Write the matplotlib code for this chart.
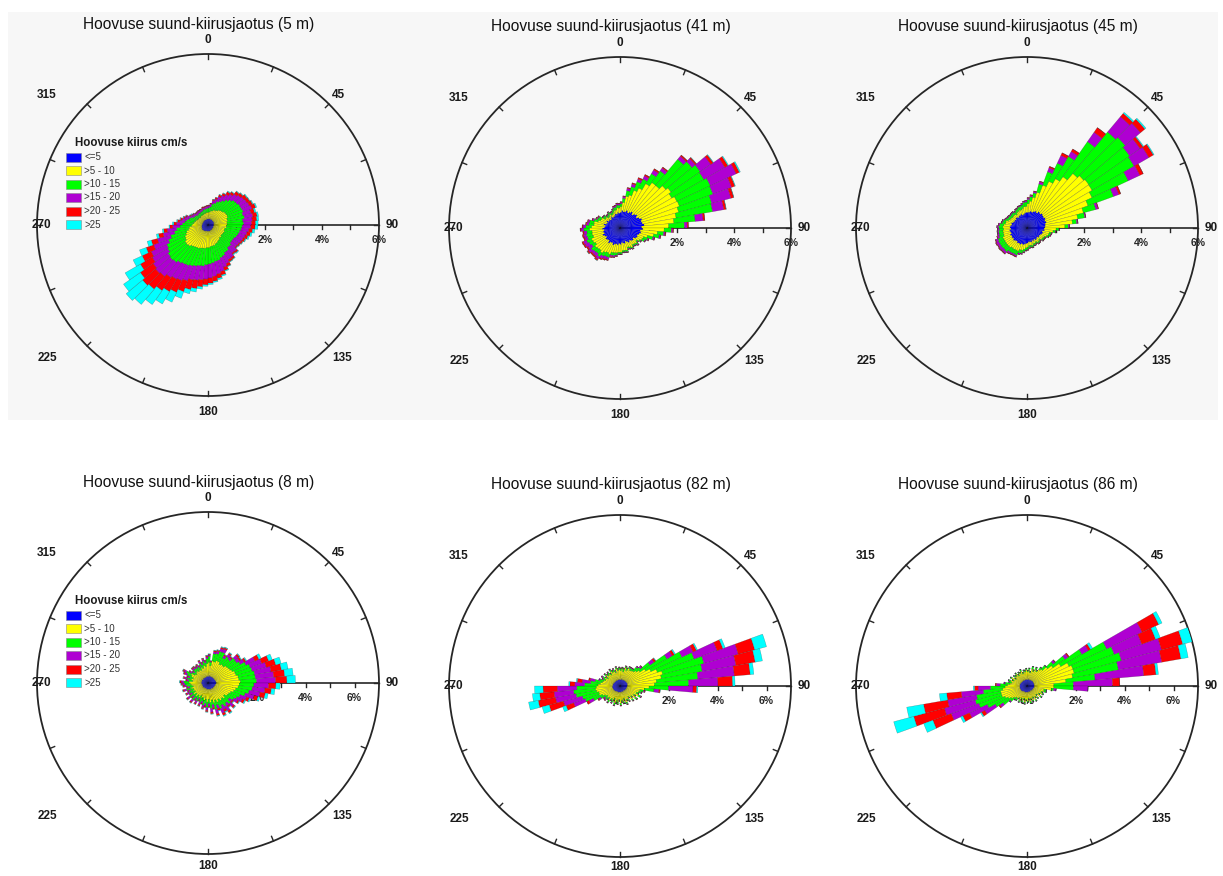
import numpy as np
import matplotlib
matplotlib.use("Agg")
import matplotlib.pyplot as plt
from matplotlib.patches import Rectangle, Circle

plt.rcParams["font.family"] = ["Liberation Sans", "DejaVu Sans"]

# ---------------------------------------------------------------- data
SPEED_CLASSES = ["<=5", ">5 - 10", ">10 - 15", ">15 - 20", ">20 - 25", ">25"]
CLASS_COLORS = ["#0000FF", "#FFFF00", "#00FF00", "#AF00D2", "#FF0000", "#00FFFF"]
DIRECTIONS = np.arange(2.5, 360.0, 5.0)   # sector centres (deg, clockwise from N)
LEGEND_TITLE = "Hoovuse kiirus cm/s"
TITLE_FMT = "Hoovuse suund-kiirusjaotus ({} m)"
ANGLE_LABELS = ["0", "45", "90", "135", "180", "225", "270", "315"]

# frequency (%) per direction sector and speed class -- 5 m
d5_le5 = [.22,.21,.23,.22,.24,.21,.22,.23,.22,.21,.23,.22,
          .22,.24,.21,.22,.20,.21,.20,.22,.19,.20,.21,.20,
          .20,.19,.21,.20,.22,.20,.22,.21,.23,.22,.21,.23,
          .22,.23,.21,.22,.24,.23,.25,.24,.26,.25,.27,.24,
          .25,.23,.24,.22,.23,.21,.22,.20,.21,.20,.21,.19,
          .20,.21,.19,.20,.21,.20,.20,.19,.21,.20,.22,.21]
d5_5_10 = [.23,.25,.28,.30,.33,.36,.38,.42,.45,.48,.50,.52,
           .53,.50,.49,.48,.47,.46,.45,.43,.41,.40,.41,.40,
           .40,.39,.41,.40,.43,.46,.48,.50,.52,.53,.55,.57,
           .58,.60,.62,.63,.64,.65,.65,.68,.72,.75,.72,.68,
           .65,.60,.54,.48,.43,.37,.33,.30,.28,.25,.23,.21,
           .20,.19,.18,.18,.19,.19,.20,.21,.21,.22,.22,.23]
d5_10_15 = [.15,.18,.24,.28,.31,.36,.40,.44,.50,.55,.53,.56,
            .55,.58,.57,.60,.56,.58,.55,.52,.53,.50,.45,.42,
            .40,.42,.44,.45,.48,.47,.50,.52,.54,.55,.58,.57,
            .60,.62,.63,.65,.66,.70,.70,.72,.74,.75,.73,.72,
            .70,.65,.58,.50,.45,.40,.35,.32,.28,.25,.22,.18,
            .15,.14,.13,.12,.12,.11,.12,.12,.13,.13,.14,.14]
d5_15_20 = [.08,.10,.12,.15,.18,.22,.25,.24,.26,.25,.28,.27,
            .30,.32,.29,.30,.33,.28,.30,.27,.26,.25,.24,.26,
            .25,.23,.26,.25,.27,.28,.30,.35,.40,.45,.47,.49,
            .50,.48,.51,.50,.55,.58,.60,.62,.64,.65,.63,.62,
            .60,.55,.48,.40,.33,.26,.20,.18,.16,.15,.13,.11,
            .10,.09,.09,.08,.08,.09,.08,.07,.08,.07,.07,.08]
d5_20_25 = [.02,.03,.04,.05,.07,.08,.10,.09,.11,.10,.12,.11,
            .12,.14,.13,.15,.16,.14,.15,.13,.12,.10,.08,.06,
            .05,.04,.06,.05,.07,.08,.10,.12,.13,.15,.17,.18,
            .20,.25,.30,.35,.40,.45,.50,.55,.58,.60,.55,.48,
            .35,.28,.22,.16,.12,.10,.10,.08,.06,.05,.04,.03,
            .03,.02,.02,.02,.02,.02,.02,.02,.03,.03,.02,.03]
d5_gt25 = [0,0,.01,.01,.02,.02,.03,.02,.02,.02,.03,.02,
           .03,.04,.05,.05,.07,.09,.10,.08,.06,.05,.03,.02,
           .02,.02,.03,.03,.02,.02,.02,.03,.04,.05,.04,.05,
           .05,.08,.12,.15,.25,.38,.50,.60,.70,.75,.72,.62,
           .35,.25,.15,.08,.05,.03,.05,.03,.02,.02,.02,.01,
           .02,.01,0,0,0,0,0,0,0,0,0,0]

# 41 m
d41_le5 = [.55,.62,.58,.60,.66,.60,.65,.70,.63,.70,.74,.68,
           .75,.82,.78,.80,.85,.76,.80,.72,.75,.70,.66,.68,
           .65,.58,.62,.60,.55,.60,.55,.50,.56,.55,.52,.58,
           .55,.60,.57,.60,.64,.58,.60,.66,.58,.60,.62,.56,
           .60,.65,.58,.60,.56,.62,.55,.52,.58,.50,.48,.52,
           .45,.48,.42,.45,.50,.44,.45,.48,.52,.50,.55,.52]
d41_5_10 = [.20,.28,.55,.60,.75,.95,1.15,1.25,1.32,1.40,1.45,1.42,
            1.45,1.40,1.35,1.20,1.05,.95,.75,.60,.45,.30,.22,.18,
            .15,.14,.16,.15,.18,.20,.20,.22,.25,.25,.28,.27,
            .30,.28,.32,.30,.35,.38,.40,.42,.45,.45,.46,.44,
            .45,.42,.40,.40,.43,.45,.45,.40,.35,.30,.25,.20,
            .15,.13,.12,.10,.10,.10,.10,.11,.12,.15,.16,.18]
d41_10_15 = [.10,.15,.20,.30,.32,.35,.40,.50,1.20,1.20,1.25,1.30,
             1.30,1.25,1.20,1.30,.75,.55,.25,.22,.20,.20,.15,.10,
             .05,.05,.06,.05,.05,.04,.05,.05,.06,.05,.05,.06,
             .05,.08,.10,.10,.12,.15,.15,.16,.15,.15,.16,.15,
             .15,.18,.20,.20,.18,.20,.20,.18,.15,.15,.12,.10,
             .10,.08,.07,.07,.08,.07,.07,.09,.10,.10,.10,.10]
d41_15_20 = [.05,.06,.08,.10,.10,.12,.15,.12,.14,.15,.45,.85,
             1.00,.70,.70,.40,.28,.10,.05,.05,.04,.05,.04,.03,
             .02,.02,.03,.02,.02,.02,.02,.03,.02,.03,.02,.02,
             .02,.03,.05,.05,.08,.10,.10,.10,.12,.10,.12,.15,
             .15,.12,.10,.10,.10,.10,.10,.08,.06,.05,.04,.03,
             .02,.02,.03,.03,.02,.03,.03,.03,.04,.05,.05,.05]
d41_20_25 = [.02,.02,.03,.04,.05,.05,.05,.04,.05,.05,.10,.12,
             .12,.12,.10,.08,.06,.04,.03,.03,.02,.02,.02,.01,
             .01,.01,.01,.01,.01,.01,.01,.01,.01,.01,.01,.01,
             .01,.02,.02,.03,.03,.04,.04,.05,.05,.05,.05,.05,
             .05,.05,.04,.04,.04,.03,.03,.03,.02,.02,.02,.02,
             .01,.01,.01,.01,.01,.01,.01,.01,.02,.02,.02,.02]
d41_gt25 = [0,0,0,0,0,0,0,0,0,.01,.02,.03,
            .04,.02,.01,.01,0,0,0,0,0,0,0,0,
            0,0,0,0,0,0,0,0,0,0,0,0,
            0,0,0,0,0,0,0,.01,0,0,.01,0,
            0,0,0,0,0,0,0,0,0,0,0,0,
            0,0,0,0,0,0,0,0,0,0,0,0]

# 45 m
d45_le5 = [.55,.56,.60,.58,.62,.66,.63,.70,.68,.72,.70,.69,
           .72,.68,.70,.66,.65,.63,.60,.62,.55,.58,.56,.52,
           .50,.53,.48,.50,.52,.47,.50,.48,.52,.50,.49,.53,
           .55,.57,.60,.58,.62,.60,.62,.58,.60,.64,.60,.62,
           .60,.63,.58,.60,.62,.57,.60,.58,.55,.57,.52,.50,
           .50,.48,.52,.50,.47,.50,.50,.52,.48,.50,.53,.55]
d45_5_10 = [.30,.39,.50,.72,.98,1.15,1.37,1.50,1.82,1.88,1.95,1.95,
            1.80,1.60,1.35,1.15,.95,.70,.42,.30,.25,.20,.18,.15,
            .15,.12,.10,.11,.10,.10,.10,.11,.12,.12,.13,.14,
            .15,.18,.20,.22,.25,.26,.25,.28,.30,.26,.30,.28,
            .30,.28,.27,.25,.23,.25,.25,.24,.22,.20,.18,.16,
            .15,.14,.12,.13,.12,.14,.15,.16,.18,.20,.22,.21]
d45_10_15 = [.15,.15,.15,.30,.50,.70,.90,1.50,1.90,1.90,1.75,1.70,
             1.40,.95,.45,.25,.15,.12,.10,.08,.07,.07,.06,.05,
             .05,.05,.05,.05,.05,.05,.05,.06,.06,.06,.07,.08,
             .08,.09,.10,.12,.15,.15,.15,.17,.20,.18,.20,.20,
             .20,.18,.17,.15,.15,.16,.15,.14,.12,.10,.10,.10,
             .10,.10,.09,.10,.10,.10,.10,.11,.13,.13,.15,.15]
d45_15_20 = [.05,.05,.05,.08,.15,.30,.20,.40,.70,.70,.45,.60,
             .45,.20,.08,.03,.04,.04,.02,.02,.02,.02,.02,.02,
             .02,.02,.02,.02,.02,.02,.02,.02,.02,.02,.02,.02,
             .02,.03,.03,.04,.05,.05,.05,.06,.08,.10,.10,.08,
             .10,.08,.06,.05,.05,.05,.05,.04,.03,.03,.03,.03,
             .03,.03,.03,.03,.03,.03,.03,.03,.03,.04,.04,.05]
d45_20_25 = [.02,.02,.02,.02,.05,.10,.10,.20,.15,.20,.12,.18,
             .13,.07,.02,.01,.01,.01,.01,.01,.01,.01,.01,.01,
             .01,.01,.01,.01,.01,.01,.01,.01,.01,.01,.01,.01,
             .01,.01,.01,.01,.02,.02,.02,.02,.02,.02,.02,.02,
             .02,.02,.02,.01,.01,.01,.01,.01,.01,.01,.01,.01,
             .01,.01,.01,.01,.01,.01,.01,.01,.01,.01,.01,.01]
d45_gt25 = [0,0,0,0,0,0,0,0,.05,.05,.03,.03,
            0,0,0,0,0,0,0,0,0,0,0,0,
            0,0,0,0,0,0,0,0,0,0,0,0,
            0,0,0,0,0,0,0,0,0,0,0,0,
            0,0,0,0,0,0,0,0,0,0,0,0,
            0,0,0,0,0,0,0,0,0,0,0,0]

# 8 m
d8_le5 = [.30,.26,.32,.28,.30,.27,.31,.29,.30,.28,.32,.30,
          .30,.33,.31,.34,.32,.35,.33,.34,.31,.32,.30,.29,
          .30,.27,.31,.28,.30,.26,.29,.27,.30,.26,.28,.25,
          .28,.25,.27,.24,.26,.23,.26,.24,.27,.25,.28,.24,
          .26,.25,.27,.24,.26,.28,.30,.26,.28,.25,.27,.29,
          .25,.24,.26,.27,.25,.26,.24,.27,.25,.28,.26,.29]
d8_5_10 = [.55,.45,.60,.62,.68,.70,.58,.65,.62,.72,.70,.75,
           .80,.85,.88,.92,.95,.98,.95,.90,.85,.78,.70,.66,
           .62,.55,.60,.55,.58,.52,.58,.48,.55,.45,.52,.42,
           .50,.42,.46,.38,.42,.35,.42,.38,.45,.38,.45,.38,
           .42,.38,.45,.38,.42,.45,.48,.38,.42,.38,.45,.48,
           .38,.34,.38,.38,.35,.38,.34,.42,.38,.45,.42,.50]
d8_10_15 = [.25,.15,.30,.35,.40,.42,.30,.38,.35,.45,.42,.48,
            .62,.66,.68,.68,.68,.66,.60,.58,.55,.48,.40,.36,
            .30,.25,.30,.26,.30,.28,.30,.22,.28,.20,.25,.18,
            .22,.18,.20,.16,.18,.14,.18,.15,.20,.15,.20,.15,
            .18,.15,.20,.15,.20,.22,.22,.15,.18,.15,.20,.22,
            .15,.12,.15,.14,.15,.14,.13,.18,.15,.18,.15,.20]
d8_15_20 = [.05,.03,.08,.10,.12,.15,.10,.12,.10,.15,.14,.18,
            .40,.50,.60,.68,.75,.78,.60,.52,.45,.38,.28,.24,
            .18,.14,.17,.14,.22,.20,.20,.15,.18,.12,.15,.10,
            .12,.10,.10,.08,.10,.07,.10,.08,.10,.08,.10,.08,
            .10,.08,.10,.08,.10,.10,.10,.08,.10,.08,.10,.10,
            .08,.06,.07,.07,.06,.07,.06,.08,.07,.08,.07,.08]
d8_20_25 = [.03,.02,.05,.05,.06,.06,.05,.06,.05,.08,.07,.08,
            .18,.30,.40,.43,.45,.46,.30,.26,.22,.16,.12,.10,
            .07,.06,.07,.06,.10,.10,.10,.08,.08,.06,.07,.05,
            .06,.05,.05,.04,.05,.04,.05,.04,.05,.04,.05,.04,
            .05,.04,.05,.04,.05,.05,.05,.04,.05,.04,.05,.05,
            .04,.03,.04,.04,.03,.04,.03,.04,.04,.04,.04,.05]
d8_gt25 = [.02,.01,.02,.02,.03,.03,.02,.03,.02,.03,.03,.04,
           .10,.16,.23,.28,.35,.35,.17,.15,.12,.08,.05,.05,
           .03,.03,.03,.03,.04,.04,.04,.03,.03,.02,.02,.02,
           .02,.02,.02,.01,.02,.01,.02,.01,.02,.01,.02,.01,
           .02,.01,.02,.01,.02,.02,.02,.01,.02,.01,.02,.02,
           .01,.01,.01,.01,.01,.01,.01,.01,.01,.01,.01,.02]

# 82 m
d82_le5 = [.28,.25,.30,.27,.29,.26,.30,.28,.31,.29,.30,.32,
           .30,.33,.31,.32,.30,.31,.29,.30,.28,.30,.27,.29,
           .26,.28,.25,.27,.24,.26,.25,.27,.24,.26,.25,.27,
           .25,.27,.26,.28,.25,.27,.26,.29,.28,.30,.29,.31,
           .30,.32,.30,.33,.31,.32,.30,.31,.29,.30,.28,.29,
           .27,.26,.28,.25,.27,.26,.28,.25,.27,.26,.28,.27]
d82_5_10 = [.35,.45,.30,.50,.40,.55,.45,.50,.50,.60,.70,.90,
            1.10,1.30,1.50,1.40,1.20,1.10,.90,.70,.55,.50,.45,.55,
            .40,.50,.35,.45,.30,.40,.35,.45,.30,.40,.35,.45,
            .30,.40,.35,.45,.30,.40,.35,.45,.35,.40,.35,.40,
            .50,.60,.60,.65,.70,.65,.60,.50,.45,.40,.35,.40,
            .30,.45,.35,.40,.30,.45,.35,.40,.30,.45,.35,.40]
d82_10_15 = [.08,.05,.10,.06,.08,.05,.10,.08,.20,.20,.50,1.00,
             1.40,1.60,1.75,1.70,1.70,1.40,.80,.40,.15,.10,.08,.10,
             .06,.08,.05,.07,.05,.06,.05,.07,.05,.06,.05,.07,
             .05,.07,.06,.08,.06,.08,.07,.08,.08,.10,.12,.20,
             .40,.60,.70,.85,.90,.80,.55,.40,.30,.15,.10,.10,
             .08,.07,.06,.08,.06,.07,.06,.08,.06,.07,.06,.08]
d82_15_20 = [.02,.02,.03,.02,.02,.02,.03,.02,.05,.08,.20,.25,
             .50,1.00,1.45,1.40,1.50,1.20,1.00,.20,.05,.03,.02,.03,
             .02,.02,.02,.02,.02,.02,.02,.02,.02,.02,.02,.02,
             .02,.02,.02,.03,.02,.03,.02,.03,.03,.04,.05,.10,
             .20,.50,.80,.85,.80,.80,.40,.35,.20,.05,.05,.05,
             .03,.02,.02,.03,.02,.02,.02,.03,.02,.02,.02,.02]
d82_20_25 = [.01,.01,.01,.01,.01,.01,.01,.01,.01,.02,.08,.10,
             .15,.25,.70,.80,.65,.60,.15,.05,.02,.01,.01,.01,
             .01,.01,.01,.01,.01,.01,.01,.01,.01,.01,.01,.01,
             .01,.01,.01,.01,.01,.01,.01,.01,.01,.02,.03,.04,
             .10,.33,.60,.72,.59,.58,.20,.20,.06,0,.01,.01,
             .01,.01,.01,.01,.01,.01,.01,.01,.01,.01,.01,.01]
d82_gt25 = [0,0,0,0,0,0,0,0,0,0,.02,.05,
            .05,.10,.50,.30,.15,.10,.05,.01,0,0,0,0,
            0,0,0,0,0,0,0,0,0,0,0,0,
            0,0,0,0,0,0,0,0,0,0,0,0,
            0,.15,.30,.40,.30,.35,.05,.04,0,0,0,0,
            0,0,0,0,0,0,0,0,0,0,0,0]

# 86 m
d86_le5 = [.28,.25,.30,.27,.29,.26,.30,.28,.30,.30,.30,.30,
           .30,.30,.30,.30,.30,.30,.30,.30,.30,.28,.27,.29,
           .26,.28,.25,.27,.24,.26,.25,.27,.24,.26,.25,.27,
           .25,.27,.26,.28,.25,.27,.26,.29,.28,.30,.30,.30,
           .30,.30,.30,.30,.30,.30,.30,.30,.29,.30,.28,.29,
           .27,.26,.28,.25,.27,.26,.28,.25,.27,.26,.28,.27]
d86_5_10 = [.30,.40,.25,.45,.35,.50,.40,.55,.60,.80,1.00,1.30,
            1.60,1.70,1.70,1.60,1.30,.80,.80,.70,.40,.45,.35,.40,
            .30,.40,.25,.35,.30,.40,.25,.35,.30,.40,.25,.35,
            .30,.40,.25,.35,.30,.40,.30,.35,.35,.40,.50,.60,
            .70,.80,.80,.80,.70,.60,.50,.40,.35,.40,.30,.40,
            .25,.35,.30,.40,.25,.35,.30,.40,.25,.35,.30,.40]
d86_10_15 = [.05,.08,.05,.10,.06,.08,.05,.10,.20,.30,.60,1.00,
             1.70,1.80,2.00,1.90,1.20,.80,.80,.10,.10,.08,.06,.05,
             .05,.06,.04,.05,.04,.06,.05,.05,.04,.06,.05,.05,
             .05,.06,.05,.07,.05,.06,.05,.08,.10,.20,.40,.60,
             .80,1.00,1.10,1.00,.80,.60,.30,.20,.10,.08,.06,.05,
             .05,.06,.04,.05,.06,.05,.04,.06,.05,.05,.06,.05]
d86_15_20 = [.02,.01,.02,.02,.01,.02,.02,.02,.02,.10,.15,.30,
             1.60,1.20,1.70,1.80,2.00,1.60,.60,.10,.02,.02,.02,.01,
             .01,.02,.01,.01,.02,.01,.01,.02,.01,.01,.02,.01,
             .01,.02,.01,.02,.01,.02,.02,.02,.03,.05,.15,.50,
             .80,1.20,1.30,1.20,.90,.50,.15,.05,.02,.02,.01,.02,
             .01,.02,.01,.01,.02,.01,.01,.02,.01,.01,.02,.01]
d86_20_25 = [0,0,0,0,0,0,0,0,0,.02,.05,.10,
             .75,.60,.90,.80,.50,.30,0,0,0,0,0,0,
             0,0,0,0,0,0,0,0,0,0,0,0,
             0,0,0,0,0,0,0,0,0,0,.05,.15,
             .30,.80,1.30,1.00,.60,.15,.05,0,0,0,0,0,
             0,0,0,0,0,0,0,0,0,0,0,0]
d86_gt25 = [0,0,0,0,0,0,0,0,0,0,0,.10,
            .15,.20,.40,.30,.10,0,0,0,0,0,0,0,
            0,0,0,0,0,0,0,0,0,0,0,0,
            0,0,0,0,0,0,0,0,0,0,0,.05,
            .10,.40,.85,.70,.30,.05,0,0,0,0,0,0,
            0,0,0,0,0,0,0,0,0,0,0,0]

DEPTHS = [5, 41, 45, 8, 82, 86]
SCALE_MAX = [6, 6, 6, 7, 7, 7]           # outer circle, %
PCT_LABELS = [[2, 4, 6], [2, 4, 6], [2, 4, 6],
              [0, 2, 4, 6], [0, 2, 4, 6], [0, 2, 4, 6]]
SERIES = [
    [d5_le5, d5_5_10, d5_10_15, d5_15_20, d5_20_25, d5_gt25],
    [d41_le5, d41_5_10, d41_10_15, d41_15_20, d41_20_25, d41_gt25],
    [d45_le5, d45_5_10, d45_10_15, d45_15_20, d45_20_25, d45_gt25],
    [d8_le5, d8_5_10, d8_10_15, d8_15_20, d8_20_25, d8_gt25],
    [d82_le5, d82_5_10, d82_10_15, d82_15_20, d82_20_25, d82_gt25],
    [d86_le5, d86_5_10, d86_10_15, d86_15_20, d86_20_25, d86_gt25],
]

# ---------------------------------------------------------------- layout
W, H = 1223, 876
fig = plt.figure(figsize=(W / 100, H / 100), dpi=100)
fig.patch.set_facecolor("white")

# light grey panel behind the upper row
fig.add_artist(Rectangle((8 / W, 1 - 420 / H), 1210 / W, 408 / H,
                         transform=fig.transFigure, facecolor="#f7f7f7",
                         edgecolor="none", zorder=-10))

CENTERS = [(208, 225), (620, 228), (1027, 228),
           (208, 683), (620, 686), (1027, 686)]
RADIUS = 171  # px
EDGE_WIDTHS = [0.2, 0.3, 0.3, 0.3, 0.3, 0.3]


def angle_offsets(bottom_gap):
    # label offsets (px, y downward) from each rose centre
    return [(0, -185), (130, -130), (184, 0), (134, 133),
            (0, bottom_gap), (-161, 133), (-167, 0), (-161, -130)]


def draw_rose(cx, cy, depth, rmax, series, pct_labels, legend, bottom_gap):
    rect = [(cx - RADIUS) / W, 1 - (cy + RADIUS) / H,
            2 * RADIUS / W, 2 * RADIUS / H]
    u = rmax / RADIUS  # data units per pixel

    # frame: circle, compass ticks, radial scale, labels
    base = fig.add_axes(rect, zorder=1)
    base.set_xlim(-rmax, rmax)
    base.set_ylim(-rmax, rmax)
    base.axis("off")
    base.add_patch(Circle((0, 0), rmax, fill=False, lw=1.3,
                          edgecolor="#262626", clip_on=False))
    for k in range(16):
        a = np.deg2rad(k * 22.5)
        r0, r1 = rmax, rmax - 5 * u
        base.plot([r0 * np.sin(a), r1 * np.sin(a)],
                  [r0 * np.cos(a), r1 * np.cos(a)],
                  color="#262626", lw=1.0, clip_on=False)
    base.plot([0, rmax], [0, 0], color="#262626", lw=1.2)
    for r in range(1, rmax):
        base.plot([r, r], [0, -4 * u], color="#262626", lw=1.0)
    for p in pct_labels:
        base.text(p, -15 * u, f"{p}%", ha="center", va="center",
                  fontsize=7.5, fontweight="bold", color="#262626")
    for lab, (dx, dy) in zip(ANGLE_LABELS, angle_offsets(bottom_gap)):
        base.text(dx * u, -dy * u, lab, ha="center", va="center",
                  fontsize=8.5, fontweight="bold", color="#1a1a1a",
                  clip_on=False)

    # stacked speed-class sectors
    ax = fig.add_axes(rect, projection="polar", zorder=2)
    ax.set_theta_zero_location("N")
    ax.set_theta_direction(-1)
    ax.patch.set_alpha(0)
    ax.grid(False)
    ax.set_xticks([])
    ax.set_yticks([])
    ax.spines["polar"].set_visible(False)
    theta = np.deg2rad(DIRECTIONS)
    bottom = np.zeros(len(DIRECTIONS))
    for vals, col, lw in zip(series, CLASS_COLORS, EDGE_WIDTHS):
        v = np.asarray(vals, dtype=float)
        ax.bar(theta, v, width=np.deg2rad(5.0), bottom=bottom, color=col,
               edgecolor=(0.1, 0.1, 0.1, 0.4), linewidth=lw)
        bottom = bottom + v
    ax.set_ylim(0, rmax)

    fig.text((cx - 9) / W, 1 - (cy - 201) / H, TITLE_FMT.format(depth),
             ha="center", va="center", fontsize=11.2, color="#111111")

    if legend:
        base.text(-133 * u, 82 * u, LEGEND_TITLE, ha="left", va="center",
                  fontsize=8.3, fontweight="bold", color="#1a1a1a",
                  clip_on=False)
        for i, (lab, col) in enumerate(zip(SPEED_CLASSES, CLASS_COLORS)):
            yc = 68 - 13.5 * i
            base.add_patch(Rectangle((-142 * u, (yc - 4.5) * u), 15 * u, 9 * u,
                                     facecolor=col, edgecolor="#888888",
                                     lw=0.4, clip_on=False))
            base.text(-124 * u, yc * u, lab, ha="left", va="center",
                      fontsize=7, color="#333333", clip_on=False)


BOTTOM_GAPS = [187, 187, 187, 183, 181, 181]
for (cx, cy), depth, rmax, series, pl, leg, bg in zip(
        CENTERS, DEPTHS, SCALE_MAX, SERIES, PCT_LABELS,
        [True, False, False, True, False, False], BOTTOM_GAPS):
    draw_rose(cx, cy, depth, rmax, series, pl, leg, bg)

fig.savefig("out.png", dpi=100)
